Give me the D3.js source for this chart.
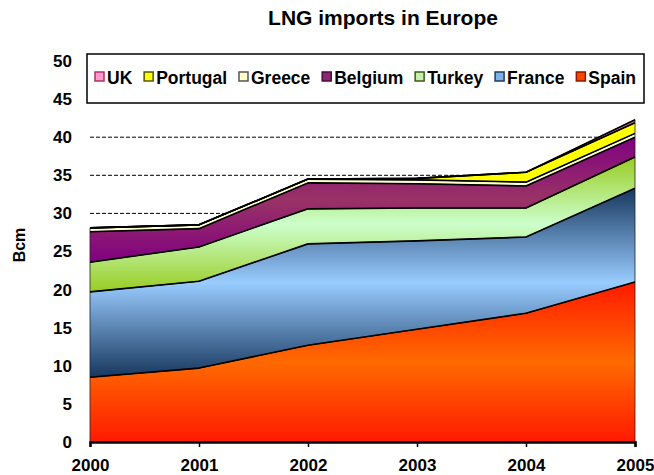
<!DOCTYPE html>
<html>
  <head>
    <meta charset="utf-8" />
    <script src="https://d3js.org/d3.v7.min.js"></script>
    <style>
      body { margin: 0; background: #fff; }
      text { font-family: "Liberation Sans", Arial, sans-serif; font-weight: bold; fill: #000; }
    </style>
  </head>
  <body>
    <svg width="654" height="475" id="chart"></svg>
    <script>
      // data (Bcm)
      const years = [2000, 2001, 2002, 2003, 2004, 2005];
      const spain = [8.5, 9.7, 12.7, 14.8, 16.9, 21.0];
      const france = [11.2, 11.4, 13.3, 11.6, 10.0, 12.3];
      const turkey = [3.9, 4.5, 4.6, 4.3, 3.8, 4.1];
      const belgium = [4.0, 2.4, 3.4, 3.2, 2.9, 2.6];
      const greece = [0.5, 0.5, 0.5, 0.5, 0.5, 0.5];
      const portugal = [0, 0, 0, 0.2, 1.3, 1.4];
      const uk = [0, 0, 0, 0, 0, 0.4];
      const yTicks = [0, 5, 10, 15, 20, 25, 30, 35, 40, 45, 50];
      const gridValues = [30, 35, 40, 45, 50];

      // bottom to top
      const series = [
        { key: "Spain", values: spain, edge: "#ff1a00", mid: "#ff6a00", swatch: "#ff4400", line: "#8b1a00" },
        { key: "France", values: france, edge: "#17375e", mid: "#99ccff", swatch: "#7fb2e6", line: "#1f3a5f" },
        { key: "Turkey", values: turkey, edge: "#99cc22", mid: "#ccffcc", swatch: "#c6f0b0", line: "#3c5a14" },
        { key: "Belgium", values: belgium, edge: "#800080", mid: "#993366", swatch: "#8a2a72", line: "#4a0a40" },
        { key: "Greece", values: greece, edge: "#ffffcc", mid: "#ffffcc", swatch: "#ffffcc", line: "#555" },
        { key: "Portugal", values: portugal, edge: "#ffff00", mid: "#ffff00", swatch: "#ffff00", line: "#555500" },
        { key: "UK", values: uk, edge: "#cc6699", mid: "#ff99cc", swatch: "#ff99cc", line: "#aa3366" },
      ];
      const legendOrder = ["UK", "Portugal", "Greece", "Belgium", "Turkey", "France", "Spain"];

      const svg = d3.select("svg#chart");
      const plot = { left: 90, right: 635, top: 61, bottom: 442 };

      const x = d3.scaleLinear().domain([2000, 2005]).range([plot.left, plot.right]);
      const y = d3.scaleLinear().domain([0, 50]).range([plot.bottom, plot.top]);

      const rows = years.map((yr, i) => {
        const r = { year: yr };
        series.forEach((s) => (r[s.key] = s.values[i]));
        return r;
      });
      const stacked = d3.stack().keys(series.map((s) => s.key))(rows);

      // gradients (edge - middle - edge, like the Excel fill)
      const defs = svg.append("defs");
      series.forEach((s, i) => {
        const g = defs
          .append("linearGradient")
          .attr("id", "grad" + i)
          .attr("x1", 0).attr("y1", 0).attr("x2", 0).attr("y2", 1);
        g.append("stop").attr("offset", "0%").attr("stop-color", s.edge);
        g.append("stop").attr("offset", "50%").attr("stop-color", s.mid);
        g.append("stop").attr("offset", "100%").attr("stop-color", s.edge);
      });

      // dashed gridlines
      svg
        .append("g")
        .selectAll("line")
        .data(gridValues)
        .join("line")
        .attr("x1", plot.left)
        .attr("x2", plot.right)
        .attr("y1", (d) => y(d))
        .attr("y2", (d) => y(d))
        .style("stroke", "#000")
        .style("stroke-width", 1)
        .style("stroke-dasharray", "4,2");

      // stacked areas
      const area = d3
        .area()
        .x((d) => x(d.data.year))
        .y0((d) => y(d[0]))
        .y1((d) => y(d[1]));

      const topLine = d3
        .line()
        .x((d) => x(d.data.year))
        .y((d) => y(d[1]));

      svg
        .append("g")
        .selectAll("path")
        .data(stacked)
        .join("path")
        .attr("d", area)
        .attr("fill", (d, i) => `url(#grad${i})`)
        .attr("stroke", "#222")
        .attr("stroke-width", 0.8);

      svg
        .append("g")
        .selectAll("path")
        .data(stacked)
        .join("path")
        .attr("d", topLine)
        .attr("fill", "none")
        .attr("stroke", "#000")
        .attr("stroke-width", 1.6)
        .attr("stroke-linejoin", "round");

      // x axis
      const axisBottom = d3.axisBottom(x).tickValues(years).tickFormat(d3.format("d")).tickSize(5);
      const xg = svg
        .append("g")
        .attr("transform", `translate(0, ${plot.bottom})`)
        .call(axisBottom);
      xg.select(".domain").attr("stroke", "#000").attr("stroke-width", 2.5);
      xg.selectAll(".tick line").attr("stroke", "#000").attr("stroke-width", 1.5);
      xg.selectAll(".tick text")
        .attr("dy", null)
        .attr("y", 29)
        .style("font-size", "17px")
        .style("font-family", '"Liberation Sans", Arial, sans-serif')
        .style("font-weight", "bold");

      // y axis labels
      const axisLeft = d3.axisLeft(y).tickValues(yTicks).tickSize(0).tickPadding(18);
      const yg = svg
        .append("g")
        .attr("transform", `translate(${plot.left}, 0)`)
        .call(axisLeft);
      yg.select(".domain").remove();
      yg.selectAll(".tick text")
        .style("font-size", "17px")
        .style("font-family", '"Liberation Sans", Arial, sans-serif')
        .style("font-weight", "bold");

      // title
      svg
        .append("text")
        .attr("x", 383)
        .attr("y", 25)
        .attr("text-anchor", "middle")
        .style("font-size", "21px")
        .text("LNG imports in Europe");

      // y axis title
      svg
        .append("text")
        .attr("transform", "translate(25, 245) rotate(-90)")
        .attr("text-anchor", "middle")
        .style("font-size", "16px")
        .text("Bcm");

      // legend
      const legend = { x: 87, y: 54, w: 557, h: 49 };
      svg
        .append("rect")
        .attr("x", legend.x)
        .attr("y", legend.y)
        .attr("width", legend.w)
        .attr("height", legend.h)
        .attr("fill", "#fff")
        .attr("stroke", "#000")
        .attr("stroke-width", 1.5);

      const lg = svg.append("g");
      const items = legendOrder.map((k) => {
        const s = series.find((d) => d.key === k);
        const t = lg
          .append("text")
          .attr("y", legend.y + 30)
          .style("font-size", "17.5px")
          .text(k);
        return { s, t, w: t.node().getComputedTextLength() };
      });
      const markerW = 9;
      const inner = legend.w - 16;
      const used = d3.sum(items, (d) => markerW + 3 + d.w);
      const gap = (inner - used) / (items.length - 1);
      let cx = legend.x + 8;
      items.forEach((d) => {
        lg.append("rect")
          .attr("x", cx)
          .attr("y", legend.y + 18)
          .attr("width", markerW)
          .attr("height", markerW)
          .attr("fill", d.s.swatch)
          .attr("stroke", d.s.line)
          .attr("stroke-width", 1.5);
        d.t.attr("x", cx + markerW + 3);
        cx += markerW + 3 + d.w + gap;
      });
    </script>
  </body>
</html>
